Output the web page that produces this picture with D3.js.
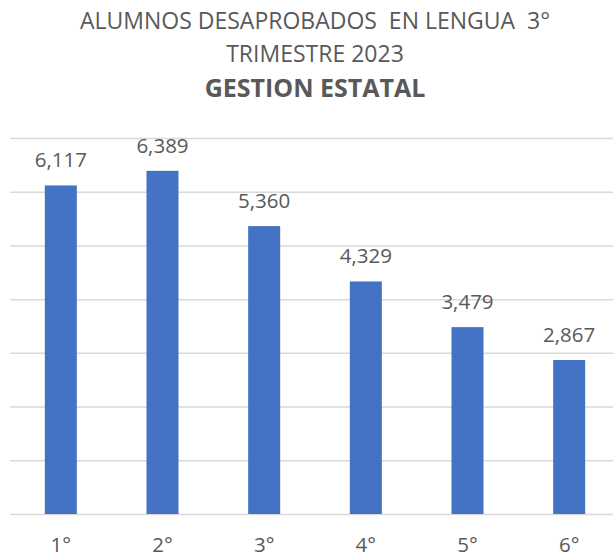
<!DOCTYPE html>
<html>
<head>
<meta charset="utf-8">
<script src="https://cdn.jsdelivr.net/npm/d3@7"></script>
<style>
	body { margin: 0; background: #fff; }
	text { font-family: "Open Sans", "Noto Sans", sans-serif; fill: #595959; }
	.title { white-space: pre; }
</style>
</head>
<body>
<div id="graphic"></div>
<script>
// chart data
const grades = ["1°", "2°", "3°", "4°", "5°", "6°"];
const failed = [6117, 6389, 5360, 4329, 3479, 2867];
const gridTicks = [0, 1000, 2000, 3000, 4000, 5000, 6000, 7000];
const titleLines = ["ALUMNOS DESAPROBADOS  EN LENGUA  3°", "TRIMESTRE 2023"];
const subTitle = "GESTION ESTATAL";

const width = 613, height = 557;
const margin = { top: 138, right: -7, bottom: 43, left: 10 };
const chartWidth = width - margin.left - margin.right;
const chartHeight = height - margin.top - margin.bottom;
const titleX = 315;

let svg = d3.select('#graphic')
	.append('svg')
	.attr('width', width)
	.attr('height', height);

// titles
svg.append('text')
	.attr('class', 'title')
	.attr('x', titleX)
	.attr('y', 29)
	.attr('text-anchor', 'middle')
	.style('font-size', '23px')
	.text(titleLines[0]);

svg.append('text')
	.attr('class', 'title')
	.attr('x', titleX)
	.attr('y', 62)
	.attr('text-anchor', 'middle')
	.style('font-size', '23px')
	.text(titleLines[1]);

svg.append('text')
	.attr('class', 'title')
	.attr('x', titleX)
	.attr('y', 97)
	.attr('text-anchor', 'middle')
	.style('font-size', '25px')
	.style('font-weight', 'bold')
	.text(subTitle);

let g = svg.append('g')
	.attr('transform', 'translate(' + margin.left + ',' + margin.top + ')');

//set up scales
const x = d3.scaleBand()
	.domain(grades)
	.range([0, chartWidth])
	.paddingInner(0.685)
	.paddingOuter(0.3425);

const y = d3.scaleLinear()
	.domain([0, 7000])
	.range([chartHeight, 0]);

// gridlines
let yAxis = d3.axisLeft(y)
	.tickValues(gridTicks)
	.tickSize(-(width - margin.left))
	.tickFormat('');

g.append('g')
	.attr('class', 'y axis')
	.call(yAxis)
	.call(s => s.select('.domain').remove())
	.selectAll('line')
	.attr('stroke', '#d9d9d9')
	.attr('stroke-width', 1.5);

// bars
g.selectAll('rect')
	.data(failed)
	.join('rect')
	.attr('x', (d, i) => x(grades[i]))
	.attr('y', d => y(d))
	.attr('width', x.bandwidth())
	.attr('height', d => y(0) - y(d))
	.attr('fill', '#4472c4');

// value labels
g.selectAll('.value-label')
	.data(failed)
	.join('text')
	.attr('class', 'value-label')
	.attr('x', (d, i) => x(grades[i]) + x.bandwidth() / 2)
	.attr('y', d => y(d) - 18)
	.attr('text-anchor', 'middle')
	.style('font-size', '20.5px')
	.text(d => d3.format(',')(d));

// x axis labels
let xAxis = d3.axisBottom(x)
	.tickSize(0)
	.tickPadding(0);

g.append('g')
	.attr('class', 'x axis')
	.attr('transform', 'translate(0,' + chartHeight + ')')
	.call(xAxis)
	.call(s => s.select('.domain').remove())
	.selectAll('text')
	.attr('dy', null)
	.attr('y', 38)
	.style('font-size', '20.5px')
	.style('font-family', '"Open Sans", "Noto Sans", sans-serif')
	.attr('fill', '#595959');
</script>
</body>
</html>
